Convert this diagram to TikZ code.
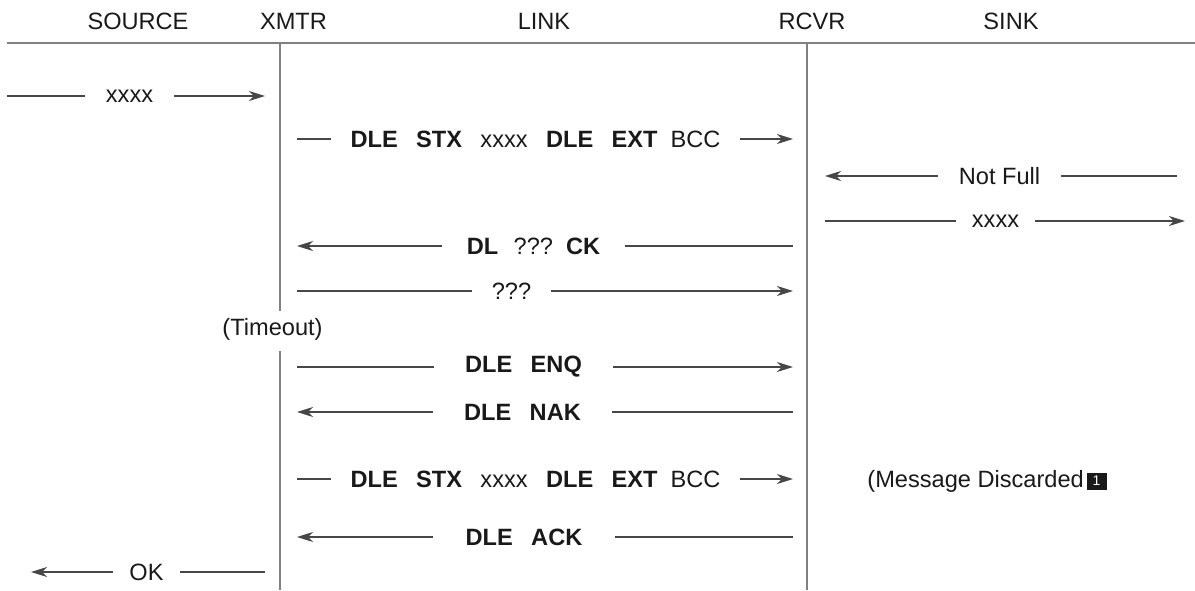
\documentclass[tikz,border=0pt]{standalone}
\usepackage{fontspec}
\setmainfont{Liberation Sans}
\usetikzlibrary{arrows.meta,positioning}
\newcommand{\wsp}{\hspace{0.78em}}

\begin{document}
\begin{tikzpicture}[x=0.5pt,y=-0.5pt,
  every node/.style={font=\fontsize{11.8}{13}\selectfont, text=black!90},
  lane/.style={draw=black!50, line width=0.65pt},
  msg/.style={draw=black!72, line width=0.65pt},
  tip/.style={msg, -{Stealth[length=8pt,width=5pt,inset=2.4pt]}},
  lbl/.style={inner xsep=0pt, inner ysep=1pt}]
\useasboundingbox (0,0) rectangle (1195,590);

% header
\node (src)  at (138,21)  {SOURCE};
\node (xmtr) at (293.5,21) {XMTR};
\node (link) at (544,21)  {LINK};
\node (rcvr) at (812,21)  {RCVR};
\node (sink) at (1011,21) {SINK};

\coordinate (h0) at (7,43);
\coordinate (h1) at (1195,43);
\coordinate (x0) at (280,43);
\coordinate (x1) at (280,311);
\coordinate (x2) at (280,351);
\coordinate (x3) at (280,590);
\coordinate (r0) at (807,43);
\coordinate (r1) at (807,590);

\draw[lane] (h0) -- (h1);
\draw[lane] (x0) -- (x1);
\draw[lane] (x2) -- (x3);
\draw[lane] (r0) -- (r1);

\node (tmo) at (272.5,329) {(Timeout)};

% messages
\coordinate (a1) at (7,96);    \coordinate (b1) at (265,96);
\coordinate (a2) at (297,139); \coordinate (b2) at (793,139);
\coordinate (a3) at (825,176); \coordinate (b3) at (1177,176);
\coordinate (a4) at (825,221); \coordinate (b4) at (1185,221);
\coordinate (a5) at (297,246); \coordinate (b5) at (793,246);
\coordinate (a6) at (297,291); \coordinate (b6) at (793,291);
\coordinate (a7) at (297,367); \coordinate (b7) at (793,367);
\coordinate (a8) at (297,412); \coordinate (b8) at (793,412);
\coordinate (a9) at (297,479); \coordinate (b9) at (793,479);
\coordinate (a10) at (297,537); \coordinate (b10) at (793,537);
\coordinate (a11) at (31,572); \coordinate (b11) at (265,572);

\node[lbl, minimum width=44.5pt] (m1) at (129.5,96) {xxxx};
\node[lbl, minimum width=204.5pt] (m2) at (535.5,139)
  {\textbf{DLE}\wsp\textbf{STX}\wsp xxxx\wsp\textbf{DLE}\wsp\textbf{EXT}\hspace{0.55em}BCC};
\node[lbl, minimum width=61.5pt] (m3) at (999.5,176) {Not Full};
\node[lbl, minimum width=39.5pt] (m4) at (995.5,221) {xxxx};
\node[lbl, minimum width=91.5pt] (m5) at (533.5,246)
  {\textbf{DL}\hspace{0.65em}???\hspace{0.55em}\textbf{CK}};
\node[lbl, minimum width=39.5pt] (m6) at (511.5,291) {???};
\node[lbl, minimum width=89.5pt] (m7) at (523.5,367) {\textbf{DLE}\wsp\textbf{ENQ}};
\node[lbl, minimum width=89.5pt] (m8) at (522.5,412) {\textbf{DLE}\wsp\textbf{NAK}};
\node[lbl, minimum width=204.5pt] (m9) at (535.5,479)
  {\textbf{DLE}\wsp\textbf{STX}\wsp xxxx\wsp\textbf{DLE}\wsp\textbf{EXT}\hspace{0.55em}BCC};
\node[lbl, minimum width=91pt] (m10) at (524,537) {\textbf{DLE}\wsp\textbf{ACK}};
\node[lbl, minimum width=33.5pt] (m11) at (146.5,572) {OK};

% to the right
\draw[msg] (a1) -- (m1.west);  \draw[tip] (m1.east) -- (b1);
\draw[msg] (a2) -- (m2.west);  \draw[tip] (m2.east) -- (b2);
\draw[msg] (a4) -- (m4.west);  \draw[tip] (m4.east) -- (b4);
\draw[msg] (a6) -- (m6.west);  \draw[tip] (m6.east) -- (b6);
\draw[msg] (a7) -- (m7.west);  \draw[tip] (m7.east) -- (b7);
\draw[msg] (a9) -- (m9.west);  \draw[tip] (m9.east) -- (b9);

% to the left
\draw[tip] (m3.west) -- (a3);  \draw[msg] (m3.east) -- (b3);
\draw[tip] (m5.west) -- (a5);  \draw[msg] (m5.east) -- (b5);
\draw[tip] (m8.west) -- (a8);  \draw[msg] (m8.east) -- (b8);
\draw[tip] (m10.west) -- (a10); \draw[msg] (m10.east) -- (b10);
\draw[tip] (m11.west) -- (a11); \draw[msg] (m11.east) -- (b11);

\node[anchor=west, inner sep=0pt] (disc) at (867,481) {(Message Discarded};
\node[right=1pt of disc, fill=black!90, text=white, inner sep=0pt,
  minimum width=10pt, minimum height=8.5pt,
  font=\fontsize{7}{8}\selectfont] (fn) {1};
\end{tikzpicture}
\end{document}
